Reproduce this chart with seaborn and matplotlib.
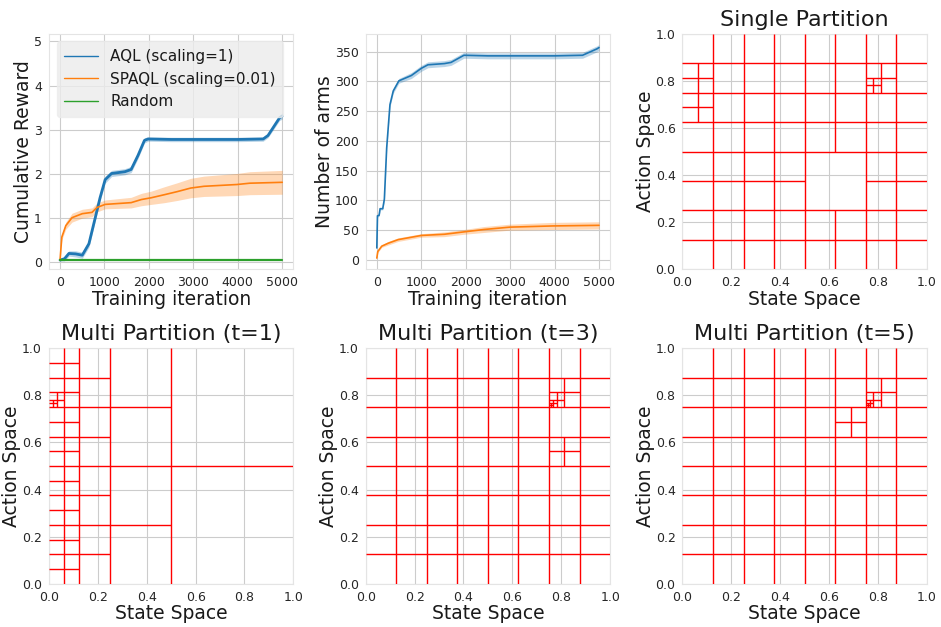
import numpy as np
import pandas as pd
import seaborn as sns
import matplotlib.pyplot as plt

# ---- cumulative reward ----
aql_rew_x = [0, 100, 200, 350, 500, 650, 790, 900, 1015, 1160, 1460, 1600, 1755, 1900, 1980,
             2500, 3000, 3500, 4000, 4570, 4680, 4940, 5000]
aql_rew = [0.05, 0.08, 0.2, 0.19, 0.16, 0.42, 1.0, 1.46, 1.87, 2.01, 2.05, 2.1, 2.42, 2.76, 2.79,
           2.78, 2.78, 2.78, 2.78, 2.79, 2.87, 3.27, 3.31]
aql_rew_sd = [0.02, 0.05, 0.06, 0.07, 0.07, 0.08, 0.08, 0.08, 0.08, 0.07, 0.07, 0.07, 0.07, 0.06, 0.05,
              0.05, 0.05, 0.05, 0.05, 0.05, 0.05, 0.06, 0.07]

spaql_rew_x = [0, 40, 130, 270, 500, 720, 830, 1015, 1600, 1830, 2050, 2350, 2640, 2940, 3240, 3980, 4270, 5000]
spaql_rew = [0.05, 0.57, 0.83, 1.01, 1.1, 1.13, 1.24, 1.31, 1.35, 1.42, 1.46, 1.53, 1.6, 1.68, 1.72, 1.76, 1.79, 1.81]
spaql_rew_sd = [0.0, 0.06, 0.08, 0.1, 0.1, 0.1, 0.1, 0.1, 0.12, 0.14, 0.15, 0.18, 0.2, 0.22, 0.23, 0.25, 0.26, 0.27]

rand_rew_x = [0, 1000, 2000, 3000, 4000, 5000]
rand_rew = [0.06, 0.06, 0.06, 0.06, 0.06, 0.06]
rand_rew_sd = [0.02, 0.02, 0.02, 0.02, 0.02, 0.02]

# ---- number of arms ----
aql_arm_x = [0, 15, 52, 74, 133, 170, 222, 296, 370, 496, 778, 1000, 1150, 1520, 1670, 1960,
             2500, 3000, 3500, 4000, 4630, 4960, 5000]
aql_arm = [20, 74, 75, 86, 86, 102, 188, 261, 284, 301, 310, 322, 328, 330, 332, 344,
           343, 343, 343, 343, 344, 355, 357]
aql_arm_sd = [1, 2, 2, 2, 2, 3, 3, 4, 4, 4, 5, 5, 5, 5, 5, 5, 5, 5, 5, 5, 5, 5, 5]

spaql_arm_x = [0, 22, 111, 259, 481, 704, 1000, 1520, 1960, 2410, 3000, 3960, 5000]
spaql_arm = [3, 14, 23, 28, 34, 37, 41, 43, 47, 51, 55, 57, 58]
spaql_arm_sd = [1, 2, 2, 3, 3, 3, 3, 4, 4, 5, 5, 6, 6]

labels = ['AQL (scaling=1)', 'SPAQL (scaling=0.01)', 'Random']
colors = ['#1f77b4', '#ff7f0e', '#2ca02c']

# ---- partitions: vertical (x, y0, y1) and horizontal (y, x0, x1) boundaries ----
single_v = [(0.125, 0, 1), (0.25, 0, 1), (0.375, 0, 1), (0.5, 0, 1), (0.625, 0.5, 1), (0.625, 0, 0.25),
            (0.75, 0, 1), (0.875, 0, 1), (0.0625, 0.625, 0.875), (0.8125, 0.75, 0.875),
            (0.78125, 0.75, 0.8125)]
single_h = [(0.125, 0, 1), (0.25, 0, 1), (0.375, 0, 0.5), (0.375, 0.75, 1), (0.5, 0, 1), (0.625, 0, 1),
            (0.75, 0, 1), (0.875, 0, 1), (0.8125, 0, 0.125), (0.6875, 0, 0.125), (0.8125, 0.75, 0.875),
            (0.78125, 0.75, 0.8125)]

t1_v = [(0.0625, 0, 1), (0.125, 0, 1), (0.25, 0, 1), (0.5, 0, 1), (0.03125, 0.75, 0.8125),
        (0.015625, 0.75, 0.78125)]
t1_h = [(0.5, 0, 1), (0.75, 0, 0.5), (0.25, 0, 0.5), (0.875, 0, 0.25), (0.625, 0, 0.25), (0.375, 0, 0.25),
        (0.125, 0, 0.25), (0.9375, 0, 0.125), (0.8125, 0, 0.125), (0.6875, 0, 0.125), (0.5625, 0, 0.125),
        (0.4375, 0, 0.125), (0.3125, 0, 0.125), (0.1875, 0, 0.125), (0.0625, 0, 0.125),
        (0.78125, 0, 0.0625), (0.765625, 0, 0.03125)]

t3_v = [(0.125, 0, 1), (0.25, 0, 1), (0.375, 0, 1), (0.5, 0, 1), (0.625, 0, 1), (0.75, 0, 1), (0.875, 0, 1),
        (0.8125, 0.75, 0.875), (0.78125, 0.75, 0.8125), (0.765625, 0.75, 0.78125),
        (0.7578125, 0.75, 0.765625), (0.8125, 0.5, 0.625)]
t3_h = [(0.125, 0, 1), (0.25, 0, 1), (0.375, 0, 1), (0.5, 0, 1), (0.625, 0, 1), (0.75, 0, 1), (0.875, 0, 1),
        (0.8125, 0.75, 0.875), (0.78125, 0.75, 0.8125), (0.765625, 0.75, 0.78125),
        (0.7578125, 0.75, 0.765625), (0.5625, 0.75, 0.875)]

t5_v = [(0.125, 0, 1), (0.25, 0, 1), (0.375, 0, 1), (0.5, 0, 1), (0.625, 0, 1), (0.75, 0, 1), (0.875, 0, 1),
        (0.8125, 0.75, 0.875), (0.78125, 0.75, 0.8125), (0.765625, 0.75, 0.78125),
        (0.7578125, 0.75, 0.765625), (0.6875, 0.625, 0.75)]
t5_h = [(0.125, 0, 1), (0.25, 0, 1), (0.375, 0, 1), (0.5, 0, 1), (0.625, 0, 1), (0.75, 0, 1), (0.875, 0, 1),
        (0.8125, 0.75, 0.875), (0.78125, 0.75, 0.8125), (0.765625, 0.75, 0.78125),
        (0.7578125, 0.75, 0.765625), (0.6875, 0.625, 0.75)]

sns.set_style('whitegrid', {'axes.edgecolor': '#e4e4e4', 'grid.color': '.8',
                            'axes.linewidth': 3.5, 'grid.linewidth': 1.1,
                            'text.color': '.1', 'axes.labelcolor': '.1',
                            'xtick.color': '.15', 'ytick.color': '.15'})
plt.rcParams['font.family'] = ['DejaVu Sans']
plt.rcParams['xtick.labelsize'] = 9
plt.rcParams['ytick.labelsize'] = 9
plt.rcParams['xtick.major.pad'] = 1.5
plt.rcParams['ytick.major.pad'] = 1.5
plt.rcParams['axes.labelpad'] = 0.5
plt.rcParams['axes.labelsize'] = 13.5
plt.rcParams['axes.titlesize'] = 16


def curve(ax, xs, ys, sd, color, label, lw=1.2):
    df = pd.DataFrame({'x': xs, 'y': ys, 'sd': sd})
    sns.lineplot(data=df, x='x', y='y', color=color, label=label, linewidth=lw, ax=ax)
    ax.fill_between(df['x'], df['y'] - df['sd'], df['y'] + df['sd'], color=color, alpha=0.3, linewidth=0)


def partition(ax, vl, hl, title):
    ax.vlines([v[0] for v in vl], [v[1] for v in vl], [v[2] for v in vl], colors='red', linewidth=1.0, zorder=3)
    ax.hlines([h[0] for h in hl], [h[1] for h in hl], [h[2] for h in hl], colors='red', linewidth=1.0, zorder=3)
    ax.set_xlim(0, 1)
    ax.set_ylim(0, 1)
    ax.set_xlabel('State Space')
    ax.set_ylabel('Action Space')
    ax.set_title(title)


fig, axes = plt.subplots(2, 3, figsize=(9.41, 6.27), dpi=100)
fig.subplots_adjust(left=0.052, right=0.985, top=0.946, bottom=0.069, wspace=0.296, hspace=0.335)

ax = axes[0, 0]
curve(ax, aql_rew_x, aql_rew, aql_rew_sd, colors[0], labels[0], lw=2.0)
curve(ax, spaql_rew_x, spaql_rew, spaql_rew_sd, colors[1], labels[1])
curve(ax, rand_rew_x, rand_rew, rand_rew_sd, colors[2], labels[2], lw=1.6)
ax.set_ylim(-0.16, 5.17)
ax.set_xticks([0, 1000, 2000, 3000, 4000, 5000])
ax.set_xlabel('Training iteration')
ax.set_ylabel('Cumulative Reward')
leg = ax.legend(loc='upper left', fontsize=11, facecolor='#ececec', edgecolor='#ececec',
                framealpha=0.8, handlelength=2.2, borderpad=0.5)
for line in leg.get_lines():
    line.set_linewidth(1.0)

ax = axes[0, 1]
curve(ax, aql_arm_x, aql_arm, aql_arm_sd, colors[0], None)
curve(ax, spaql_arm_x, spaql_arm, spaql_arm_sd, colors[1], None)
ax.set_xticks([0, 1000, 2000, 3000, 4000, 5000])
ax.set_xlabel('Training iteration')
ax.set_ylabel('Number of arms')

partition(axes[0, 2], single_v, single_h, 'Single Partition')
partition(axes[1, 0], t1_v, t1_h, 'Multi Partition (t=1)')
partition(axes[1, 1], t3_v, t3_h, 'Multi Partition (t=3)')
partition(axes[1, 2], t5_v, t5_h, 'Multi Partition (t=5)')

fig.savefig('out.png', dpi=100)
